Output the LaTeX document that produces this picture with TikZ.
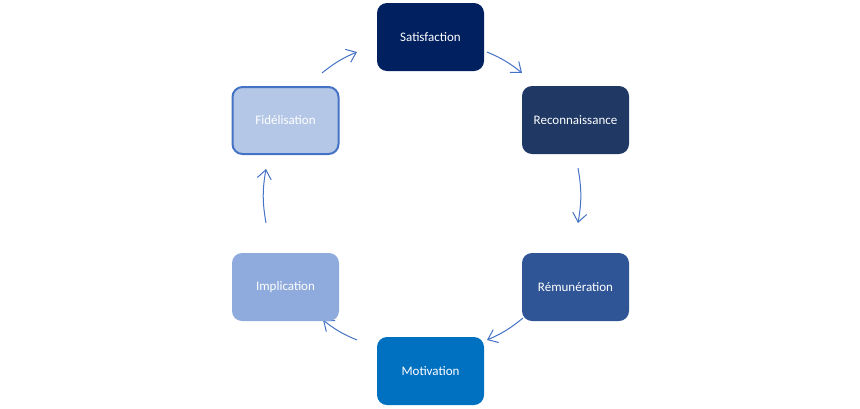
\documentclass[tikz,border=0pt]{standalone}
\usepackage{fontspec}
\setmainfont{Carlito}
\usetikzlibrary{arrows.meta}
\definecolor{cSat}{HTML}{002060}
\definecolor{cRec}{HTML}{1F3864}
\definecolor{cRem}{HTML}{2F5597}
\definecolor{cMot}{HTML}{0070C0}
\definecolor{cImp}{HTML}{8FAADC}
\definecolor{cFid}{HTML}{B4C7E7}
\definecolor{cLine}{HTML}{4472C4}
\begin{document}
\begin{tikzpicture}[x=1pt,y=-1pt,
  box/.style={rectangle, rounded corners=10pt, minimum width=107pt, minimum height=68pt,
    inner sep=0pt, text=white, font=\fontsize{13}{15}\selectfont},
  cyc/.style={draw=cLine, line width=1pt, -{Straight Barb[length=9pt,width=14pt,line width=1pt]}},
]
\useasboundingbox (0,0) rectangle (860,408);
% arrow end points
\coordinate (a1s) at (322,73);  \coordinate (a1e) at (357,52);
\coordinate (a2s) at (487,52);  \coordinate (a2e) at (522,73);
\coordinate (a3s) at (578,168); \coordinate (a3e) at (578,223);
\coordinate (a4s) at (523,318); \coordinate (a4e) at (487,340);
\coordinate (a5s) at (357,340); \coordinate (a5e) at (323,320);
\coordinate (a6s) at (266,223); \coordinate (a6e) at (266,169);
\draw[cyc] (a1s) to[bend left=8] (a1e);
\draw[cyc] (a2s) to[bend left=8] (a2e);
\draw[cyc] (a3s) to[bend left=10] (a3e);
\draw[cyc] (a4s) to[bend left=8] (a4e);
\draw[cyc] (a5s) to[bend left=8] (a5e);
\draw[cyc] (a6s) to[bend left=10] (a6e);
% nodes
\node[box, fill=cSat] (sat) at (430.5,37) {Satisfaction};
\node[box, fill=cRec] (rec) at (575.5,120) {Reconnaissance};
\node[box, fill=cRem] (rem) at (575.5,287) {Rémunération};
\node[box, fill=cMot] (mot) at (430.5,371) {Motivation};
\node[box, fill=cImp] (imp) at (285.5,287) {Implication};
\node[box, fill=cFid, draw=cLine, line width=2pt, minimum width=106pt, minimum height=67pt] (fid) at (285.5,120.5) {Fidélisation};
\end{tikzpicture}
\end{document}
